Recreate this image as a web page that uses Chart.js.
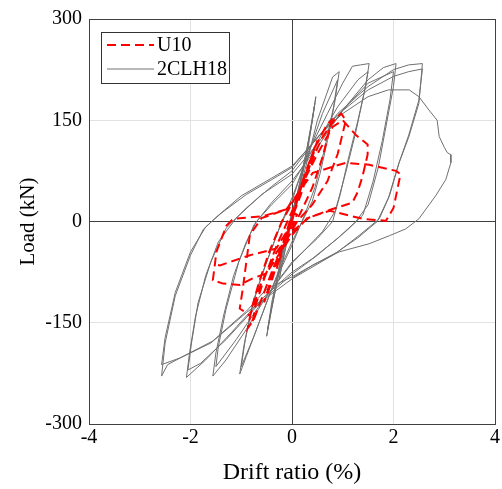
<!DOCTYPE html>
<html>
<head>
<meta charset="utf-8">
<script src="https://cdn.jsdelivr.net/npm/chart.js@4.4.1/dist/chart.umd.min.js"></script>
<style>
  html, body { margin: 0; padding: 0; background: #fff; }
  #wrap { width: 502px; height: 489px; }
</style>
</head>
<body>
<div id="wrap"><canvas id="hyst" width="502" height="489"></canvas></div>
<script>
// --- DATA (drift %, load kN) ---
const seriesNames = ['U10', '2CLH18'];
const xTicks = [-4, -2, 0, 2, 4];
const yTicks = [-300, -150, 0, 150, 300];

// red dashed specimen
const u10Drift = [
  0, 0.1, 0.25, 0.15, 0, -0.15, -0.3, -0.2, -0.05,
  0.1, 0.3, 0.5, 0.4, 0.2, 0, -0.2, -0.45, -0.55, -0.45, -0.25, 0,
  0.2, 0.45, 0.7, 0.78, 0.72, 0.6, 0.4, 0.15, -0.1, -0.4, -0.65, -0.78, -0.72, -0.55, -0.3, 0,
  0.3, 0.6, 0.85, 0.97, 1.06, 1.0, 0.9, 0.7, 0.4, 0.1, -0.2, -0.5, -0.75, -0.87, -0.8, -0.65, -0.45, -0.2, 0.1,
  0.5, 0.8, 1.0, 1.26, 1.49, 1.49, 1.39, 1.29, 1.19, 0.74, 0.34, 0, -0.3, -0.6, -0.83, -0.93, -1.03, -0.97, -0.9, -0.83, -0.6, -0.11, 0.1, 0.41,
  1.06, 1.52, 2.05, 2.14, 2.11, 2.0, 1.85, 1.39, 0.74, 0.3, 0, -0.51, -0.77, -1.03, -1.36, -1.56, -1.52, -1.49, -1.29, -1.16, -0.57, -0.11, 0.1,
  -0.31, -0.83, -1.42, -1.52
];
const u10Load = [
  0, 30, 70, 45, 10, -25, -70, -45, -10,
  30, 80, 120, 95, 45, 5, -40, -100, -120, -95, -45, 5,
  55, 110, 145, 150, 130, 95, 50, 10, -20, -75, -125, -150, -125, -85, -35, 15,
  75, 125, 152, 160, 150, 131, 100, 60, 25, 0, -40, -95, -145, -158, -130, -90, -45, 0, 40,
  100, 140, 150, 128, 114, 99, 67, 43, 28, 17, 6, -15, -45, -90, -140, -134, -129, -100, -60, -20, 5, 18, 40, 72,
  87, 84, 75, 70, 60, 20, 1, 4, 16, 5, -20, -77, -84, -94, -92, -87, -64, -45, -6, 4, 8, 18, 10,
  -40, -50, -65, -64
];

// grey solid specimen
const clhDrift = [
  0, 0.1, 0.25, 0.2, 0.05, -0.1, -0.25, -0.2, -0.05, 0,
  0.1, 0.3, 0.47, 0.4, 0.25, 0.1, 0, -0.15, -0.3, -0.5, -0.42, -0.25, -0.1, 0, 0.1,
  0.3, 0.45, 0.38, 0.2, 0, -0.2, -0.48, -0.4, -0.2, 0,
  0.2, 0.5, 0.8, 0.93, 0.85, 0.7, 0.55, 0.4, 0.2, 0, -0.3, -0.6, -0.9, -1.03, -0.95, -0.8, -0.6, -0.4, -0.2, 0,
  0.3, 0.6, 0.9, 0.82, 0.65, 0.45, 0.25, 0, -0.4, -0.75, -1.0, -0.92, -0.75, -0.5, -0.25, 0,
  0.3, 0.7, 1.0, 1.19, 1.35, 1.52, 1.45, 1.3, 1.1, 0.95, 0.8, 0.5, 0, -0.5, -0.9, -1.3, -1.56, -1.5, -1.35, -1.15, -0.9, -0.7, -0.4, 0,
  0.4, 0.9, 1.3, 1.5, 1.42, 1.25, 1.05, 0.85, 0.6, 0, -0.6, -1.1, -1.5, -1.45, -1.3, -1.05, -0.75, -0.4, 0,
  0.5, 1.0, 1.5, 1.8, 2.05, 2.0, 1.85, 1.7, 1.5, 1.26, 0.9, 0.4, 0, -0.6, -1.2, -1.7, -2.08, -2.02, -1.9, -1.7, -1.45, -1.1, -0.6, 0,
  0.5, 1.0, 1.5, 2.0, 1.93, 1.78, 1.6, 1.4, 1.1, 0.5, 0, -0.6, -1.3, -1.8, -2.05, -1.98, -1.85, -1.6, -1.3, -0.9, -0.4, 0,
  0.4, 0.9, 1.5, 2.0, 2.3, 2.57, 2.5, 2.3, 2.11, 1.92, 1.72, 1.3, 0.9, 0.4, 0, -0.5, -0.9, -1.56, -2.1, -2.45, -2.57, -2.5, -2.3, -2.0, -1.75, -1.5, -1.0, -0.5, 0,
  0.4, 0.9, 1.5, 2.0, 2.3, 2.57, 2.5, 2.3, 2.1, 1.9, 1.68, 1.3, 0.8, 0, -0.9, -1.6, -2.2, -2.57, -2.5, -2.3, -2.0, -1.7, -1.4, -0.9, -0.4, 0,
  0.5, 1.0, 1.5, 1.9, 2.31, 2.5, 2.7, 2.86, 2.9, 3.0, 3.06, 3.13, 3.13, 3.03, 2.83, 2.5, 2.24, 1.92, 1.52, 0.93, 0.4, 0
];
const clhLoad = [
  0, 35, 90, 70, 20, -25, -85, -65, -15, 5,
  35, 100, 185, 150, 90, 30, 5, -30, -90, -170, -135, -75, -20, 10, 40,
  110, 175, 140, 70, 10, -45, -160, -120, -50, 15,
  60, 150, 214, 222, 180, 120, 70, 30, 0, -30, -80, -140, -200, -226, -185, -130, -80, -40, 0, 35,
  95, 160, 210, 170, 110, 50, 10, -35, -100, -170, -215, -175, -115, -60, -10, 30,
  100, 160, 205, 230, 232, 234, 200, 150, 90, 40, 0, -25, -60, -110, -160, -205, -229, -195, -140, -80, -30, 0, 25, 55,
  105, 170, 210, 222, 190, 130, 70, 15, -15, -62, -120, -175, -215, -185, -130, -60, -5, 28, 60,
  110, 165, 210, 228, 234, 200, 140, 80, 25, 0, -25, -55, -75, -115, -165, -205, -231, -195, -140, -80, -30, 5, 40, 70,
  115, 165, 205, 222, 180, 120, 60, 10, -12, -50, -78, -118, -175, -210, -220, -180, -120, -60, -10, 20, 52, 75,
  115, 160, 200, 225, 232, 234, 175, 125, 87, 38, 4, -22, -45, -65, -82, -100, -133, -177, -198, -212, -229, -180, -110, -50, -12, 6, 38, 60, 82,
  115, 158, 195, 215, 222, 226, 180, 128, 85, 35, 0, -24, -50, -85, -135, -180, -202, -212, -172, -105, -45, -8, 12, 40, 62, 80,
  125, 160, 185, 195, 195, 185, 165, 150, 126, 110, 102, 99, 87, 62, 38, 4, -11, -21, -33, -45, -65, -84
];

const toPoints = (xs, ys) => xs.map((x, i) => ({ x: x, y: ys[i] }));
const serif = '"Liberation Serif", "Times New Roman", serif';

// legend box inside the axes, top-left, like the original figure
const boxLegend = {
  id: 'boxLegend',
  afterDraw(chart) {
    const ctx = chart.ctx;
    const a = chart.chartArea;
    const bx = a.left + 12, by = a.top + 13, bw = 128, bh = 51;
    ctx.save();
    ctx.fillStyle = '#fff';
    ctx.fillRect(bx, by, bw, bh);
    ctx.strokeStyle = '#333';
    ctx.lineWidth = 1;
    ctx.strokeRect(bx + 0.5, by + 0.5, bw, bh);

    const rows = [
      { y: by + 13, color: '#ff0000', width: 2, dash: [9, 5] },
      { y: by + 37, color: '#707070', width: 1, dash: [] }
    ];
    ctx.font = '20px ' + serif;
    ctx.textBaseline = 'middle';
    rows.forEach((r, i) => {
      ctx.beginPath();
      ctx.setLineDash(r.dash);
      ctx.strokeStyle = r.color;
      ctx.lineWidth = r.width;
      ctx.moveTo(bx + 6, r.y);
      ctx.lineTo(bx + 53, r.y);
      ctx.stroke();
      ctx.setLineDash([]);
      ctx.fillStyle = '#000';
      ctx.fillText(seriesNames[i], bx + 56, r.y + 1);
    });
    ctx.restore();
  }
};

const darkAt = (vals) => (c) => (vals.includes(c.tick.value) ? '#404040' : '#e2e2e2');

new Chart(document.getElementById('hyst'), {
  type: 'scatter',
  data: {
    datasets: [
      {
        label: seriesNames[0],
        data: toPoints(u10Drift, u10Load),
        showLine: true,
        borderColor: '#ff0000',
        borderWidth: 2,
        borderDash: [9, 5],
        pointRadius: 0,
        tension: 0
      },
      {
        label: seriesNames[1],
        data: toPoints(clhDrift, clhLoad),
        showLine: true,
        borderColor: '#707070',
        borderWidth: 1,
        pointRadius: 0,
        tension: 0
      }
    ]
  },
  options: {
    responsive: false,
    animation: false,
    layout: { padding: { top: 14, right: 6, left: 0, bottom: 0 } },
    plugins: {
      legend: { display: false },
      tooltip: { enabled: false }
    },
    scales: {
      x: {
        type: 'linear',
        min: -4,
        max: 4,
        afterBuildTicks: (s) => { s.ticks = xTicks.map(v => ({ value: v })); },
        afterFit: (s) => { s.height = 65; },
        border: { color: '#404040', width: 1 },
        grid: { color: darkAt([0, 4]), drawTicks: false, lineWidth: 1 },
        ticks: { color: '#000', padding: 2, font: { family: serif, size: 20 } },
        title: {
          display: true,
          text: 'Drift ratio (%)',
          color: '#000',
          font: { family: serif, size: 24 },
          padding: { top: 0, bottom: 2 }
        }
      },
      y: {
        type: 'linear',
        min: -300,
        max: 300,
        afterBuildTicks: (s) => { s.ticks = yTicks.map(v => ({ value: v })); },
        afterFit: (s) => { s.width = 89; },
        border: { color: '#404040', width: 1 },
        grid: { color: darkAt([0, 300]), drawTicks: false, lineWidth: 1 },
        ticks: { color: '#000', padding: 7, font: { family: serif, size: 20 } },
        title: {
          display: true,
          text: 'Load (kN)',
          color: '#000',
          font: { family: serif, size: 21 },
          padding: { top: 16, bottom: 0 }
        }
      }
    }
  },
  plugins: [boxLegend]
});
</script>
</body>
</html>
